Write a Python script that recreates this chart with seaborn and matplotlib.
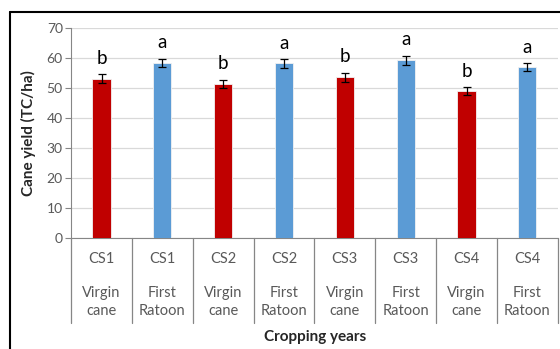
import numpy as np
import pandas as pd
import seaborn as sns
import matplotlib.pyplot as plt
import matplotlib.transforms as mtransforms
from matplotlib.lines import Line2D

# valores
sistemas = ["CS1", "CS1", "CS2", "CS2", "CS3", "CS3", "CS4", "CS4"]
ciclos = ["Virgin\ncane", "First\nRatoon"] * 4
rendimiento = [53.1, 58.4, 51.3, 58.2, 53.6, 59.3, 48.9, 56.9]
error = [1.4, 1.3, 1.4, 1.4, 1.5, 1.5, 1.3, 1.4]
letras = ["b", "a", "b", "a", "b", "a", "b", "a"]

df = pd.DataFrame({
    "etiqueta": [f"{s} {c}" for s, c in zip(sistemas, ciclos)],
    "ciclo": ciclos,
    "rendimiento": rendimiento,
})

sns.set_style("white")
plt.rcParams["font.family"] = ["Lato", "DejaVu Sans"]

gris = "#595959"
fig = plt.figure(figsize=(5.6, 3.49), dpi=100)
ax = fig.add_axes([0.127, 0.318, 0.869, 0.602])

sns.barplot(data=df, x="etiqueta", y="rendimiento", hue="ciclo",
            palette={"Virgin\ncane": "#C00000", "First\nRatoon": "#5B9BD5"},
            saturation=1, dodge=False, width=0.3, legend=False, ax=ax,
            edgecolor="#F2F2F2", linewidth=0.6, zorder=3)

pos = np.arange(len(rendimiento))
ax.errorbar(pos, rendimiento, yerr=error, fmt="none", ecolor="black",
            elinewidth=0.9, capsize=3, capthick=0.9, zorder=4)

for x, y, e, l in zip(pos, rendimiento, error, letras):
    ax.annotate(l, (x, y + e), xytext=(0, 7.5), textcoords="offset points",
                ha="center", va="baseline", fontsize=13.5, color="black")

ax.set_ylim(0, 70)
ax.set_xlim(-0.5, len(rendimiento) - 0.5)
ax.set_yticks(range(0, 71, 10))
ax.yaxis.grid(True, color="#D9D9D9", linewidth=0.9, zorder=0)
ax.set_axisbelow(True)
for lado in ["top", "right"]:
    ax.spines[lado].set_visible(False)
ax.spines["left"].set_color("#868686")
ax.spines["bottom"].set_color("#868686")
ax.tick_params(axis="y", length=4, width=0.8, color="#868686",
               labelcolor=gris, labelsize=10, pad=2, left=True)
ax.set_xticks([])
ax.set_xlabel("")
ax.set_ylabel("")

# etiquetas jerarquicas del eje x
trans = mtransforms.blended_transform_factory(ax.transData, ax.transAxes)
for x, s, c in zip(pos, sistemas, ciclos):
    ax.text(x, -0.1, s, transform=trans, ha="center", va="center",
            fontsize=10.5, color=gris)
    ax.text(x, -0.305, c, transform=trans, ha="center", va="center",
            fontsize=10.5, color=gris, linespacing=1.4)
for x in np.arange(-0.5, len(rendimiento), 1.0):
    ax.add_line(Line2D([x, x], [0, -0.403], transform=trans, color="#868686",
                       linewidth=0.9, clip_on=False))

fig.text(0.05, 0.62, "Cane yield (TC/ha)", rotation=90, ha="center",
         va="center", fontsize=11, fontweight="bold")
fig.text(0.562, 0.034, "Cropping years", ha="center", va="center",
         fontsize=11, fontweight="bold")

# borde exterior
fig.add_artist(Line2D([10 / 560, 1.0], [1 - 12 / 349] * 2, color="black",
                      linewidth=1.5))
fig.add_artist(Line2D([10 / 560] * 2, [0, 1 - 12 / 349], color="black",
                      linewidth=1.5))

fig.savefig("out.png", dpi=100)
